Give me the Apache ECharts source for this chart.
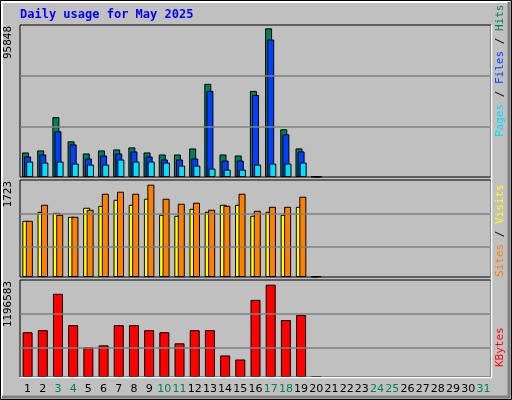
<!DOCTYPE html>
<html><head><meta charset="utf-8">
<script src="https://cdn.jsdelivr.net/npm/echarts@6/dist/echarts.min.js"></script>
<style>html,body{margin:0;padding:0;background:#c0c0c0}#c{width:512px;height:400px}</style>
</head><body><div id="c"></div>
<script>
const days = Array.from({length:31},(_,i)=>String(i+1));
const weekend = ['3','4','10','11','17','18','24','25','31'];
const hits  = [15826,17127,38590,22981,15176,17127,17778,19078,15826,14526,14526,18428,60054,14526,13875,55501,95848,30786,18428,400];
const files = [13225,14526,29485,21030,11924,13875,15176,16477,13225,11274,11274,11924,55501,10623,10623,52899,88671,27534,16477,300];
const pages = [9973,9322,9973,8672,8022,8022,11274,9973,9973,9322,7371,7371,5420,4770,4770,8022,8672,8672,9322,200];
const visits= [998,1158,1140,1069,1230,1265,1372,1283,1390,1105,1087,1212,1158,1283,1283,1087,1158,1105,1247,8];
const sites = [998,1283,1105,1069,1194,1479,1515,1479,1640,1390,1301,1319,1194,1265,1479,1176,1247,1247,1426,12];
const kbytes= [580800,607000,1078600,672500,384300,410500,672500,672500,607000,580800,436700,607000,607000,279500,227100,1000000,1196583,738000,803500,4000];
const topMax = 98000, midMax = 1723, botMax = 1257700;
const topGrid = [32090,65040], midGrid = [535,1123], botGrid = [384300,816600];

const ch = echarts.init(document.getElementById('c'));
const grids = [
  {left:20,right:21,top:25,height:152},
  {left:20,right:21,top:180,height:97},
  {left:20,right:21,top:280,height:97}
];
grids.forEach(g=>{g.show=true;g.backgroundColor='#c0c0c0';g.borderColor='#000';g.borderWidth=1;});
function xa(i,show){return {type:'category',gridIndex:i,data:days.map(d=>({value:d,textStyle:{color:weekend.includes(d)?'#00805c':'#000'}})),
  axisTick:{show:false},axisLine:{show:false},axisLabel:{show:show,interval:0,fontFamily:'DejaVu Sans',fontSize:11,margin:7},splitLine:{show:false}};}
function ya(i,max){return {type:'value',gridIndex:i,min:0,max:max,axisLabel:{show:false},axisTick:{show:false},axisLine:{show:false},splitLine:{show:false}};}
function ml(vals){return {silent:true,symbol:'none',label:{show:false},lineStyle:{color:'#808080',type:'solid',width:1.5},data:vals.map(v=>({yAxis:v}))};}
const bs = {borderColor:'#000',borderWidth:1};
ch.setOption({
  backgroundColor:'#c0c0c0',animation:false,
  grid:grids,
  xAxis:[xa(0,false),xa(1,false),xa(2,true)],
  yAxis:[ya(0,topMax),ya(1,midMax),ya(2,botMax)],
  series:[
    {type:'bar',name:'Hits',xAxisIndex:0,yAxisIndex:0,data:hits,barWidth:7,barGap:'-70%',itemStyle:Object.assign({color:'#00805c'},bs),markLine:ml(topGrid),z:3},
    {type:'bar',name:'Files',xAxisIndex:0,yAxisIndex:0,data:files,barWidth:7,barGap:'-70%',itemStyle:Object.assign({color:'#0040ff'},bs),z:3},
    {type:'bar',name:'Pages',xAxisIndex:0,yAxisIndex:0,data:pages,barWidth:7,barGap:'-70%',itemStyle:Object.assign({color:'#00e0ff'},bs),z:3},
    {type:'bar',name:'Visits',xAxisIndex:1,yAxisIndex:1,data:visits,barWidth:7,barGap:'-50%',itemStyle:Object.assign({color:'#ffff00'},bs),markLine:ml(midGrid),z:3},
    {type:'bar',name:'Sites',xAxisIndex:1,yAxisIndex:1,data:sites,barWidth:7,barGap:'-50%',itemStyle:Object.assign({color:'#ff8000'},bs),z:3},
    {type:'bar',name:'KBytes',xAxisIndex:2,yAxisIndex:2,data:kbytes,barWidth:10,itemStyle:Object.assign({color:'#ff0000'},bs),markLine:ml(botGrid),z:3}
  ],
  graphic:[
    {type:'rect',shape:{x:0.5,y:0.5,width:511,height:399},style:{fill:'none',stroke:'#000',lineWidth:1},silent:true},
    {type:'polyline',shape:{points:[[2,397],[2,2],[509,2]]},style:{stroke:'#fff',lineWidth:2,fill:'none'}},
    {type:'polyline',shape:{points:[[509,2],[509,397],[2,397]]},style:{stroke:'#808080',lineWidth:3,fill:'none'}},
    {type:'polyline',shape:{points:[[491.5,25],[491.5,377.5],[20,377.5]]},style:{stroke:'#fff',lineWidth:1.5,fill:'none'},z:10},
    {type:'text',x:20,y:15,style:{text:'Daily usage for May 2025',fill:'#0000ff',font:'bold 12px "DejaVu Sans Mono"',verticalAlign:'middle'}},
    {type:'text',x:8,y:26,rotation:Math.PI/2,style:{text:'95848',fill:'#000',font:'11px "DejaVu Sans Mono"',align:'right',verticalAlign:'middle'}},
    {type:'text',x:8,y:181,rotation:Math.PI/2,style:{text:'1723',fill:'#000',font:'11px "DejaVu Sans Mono"',align:'right',verticalAlign:'middle'}},
    {type:'text',x:8,y:281,rotation:Math.PI/2,style:{text:'1196583',fill:'#000',font:'11px "DejaVu Sans Mono"',align:'right',verticalAlign:'middle'}},
    {type:'text',x:500,y:137,rotation:Math.PI/2,style:{text:'{p|Pages}{k| / }{f|Files}{k| / }{h|Hits}',align:'left',verticalAlign:'middle',font:'11px "DejaVu Sans Mono"',
      rich:{p:{fill:'#00e0ff',font:'11px "DejaVu Sans Mono"'},f:{fill:'#0040ff',font:'11px "DejaVu Sans Mono"'},h:{fill:'#00805c',font:'11px "DejaVu Sans Mono"'},k:{fill:'#000',font:'11px "DejaVu Sans Mono"'}}}},
    {type:'text',x:500,y:277,rotation:Math.PI/2,style:{text:'{s|Sites}{k| / }{v|Visits}',align:'left',verticalAlign:'middle',font:'11px "DejaVu Sans Mono"',
      rich:{s:{fill:'#ff8000',font:'11px "DejaVu Sans Mono"'},v:{fill:'#ffff00',font:'11px "DejaVu Sans Mono"'},k:{fill:'#000',font:'11px "DejaVu Sans Mono"'}}}},
    {type:'text',x:500,y:367,rotation:Math.PI/2,style:{text:'KBytes',fill:'#ff0000',font:'11px "DejaVu Sans Mono"',align:'left',verticalAlign:'middle'}}
  ]
});
</script></body></html>
